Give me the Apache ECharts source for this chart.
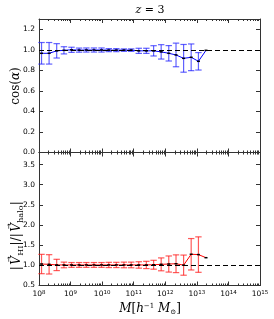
<!DOCTYPE html>
<html><head><meta charset="utf-8">
<script src="https://cdn.jsdelivr.net/npm/echarts@6/dist/echarts.min.js"></script>
<style>html,body{margin:0;padding:0;background:#fff}#c{width:274px;height:319px}</style>
</head><body><div id="c"></div>
<script>
// log10 of halo mass (bin centres)
const logM = [8.08, 8.32, 8.56, 8.79, 9.03, 9.27, 9.50, 9.74, 9.98, 10.21, 10.45, 10.69, 10.92, 11.16, 11.40, 11.63, 11.87, 12.11, 12.34, 12.58, 12.82, 13.05, 13.29];
// top panel: cos(alpha)
const cosVal = [0.966, 0.966, 0.99, 0.995, 1.0, 0.997, 0.998, 0.998, 0.998, 0.997, 0.997, 0.997, 0.997, 0.99, 0.99, 0.99, 0.98, 0.966, 0.95, 0.917, 0.927, 0.888, 0.995];
const cosErr = [0.105, 0.105, 0.07, 0.035, 0.025, 0.02, 0.02, 0.02, 0.02, 0.015, 0.015, 0.012, 0.012, 0.025, 0.025, 0.05, 0.07, 0.075, 0.115, 0.135, 0.13, 0.085, null];
// bottom panel: |V_HI|/|V_halo|
const vVal = [1.033, 1.025, 1.01, 1.01, 1.01, 1.01, 1.01, 1.01, 1.01, 1.01, 1.01, 1.01, 1.01, 1.01, 1.01, 1.015, 1.025, 1.033, 1.04, 1.005, 1.275, 1.267, 1.19];
const vErr = [0.24, 0.24, 0.14, 0.07, 0.06, 0.06, 0.06, 0.06, 0.06, 0.065, 0.065, 0.07, 0.07, 0.08, 0.09, 0.11, 0.16, 0.2, 0.22, 0.25, 0.39, 0.44, null];
// axis ticks
const xMajor = [8, 9, 10, 11, 12, 13, 14, 15];
const yTicksTop = [0, 0.2, 0.4, 0.6, 0.8, 1.0, 1.2];
const yTicksBot = [0.5, 1.0, 1.5, 2.0, 2.5, 3.0, 3.5];

const xMinor = [];
for (let n = 8; n < 15; n++) for (let k = 2; k <= 9; k++) xMinor.push(n + Math.log10(k));

const AX = '#333';
const FONT = 'DejaVu Sans';
const SERIF = 'DejaVu Serif';

function xAxes(g, showLabels) {
  const base = {gridIndex: g, type: 'value', min: 8, max: 15, splitLine: {show: false}};
  return [
    Object.assign({}, base, {position: 'bottom',
      axisLine: {show: true, onZero: false, lineStyle: {color: AX, width: 1}},
      axisTick: {show: true, inside: true, length: 4, customValues: xMajor, lineStyle: {color: AX}},
      axisLabel: {show: showLabels, customValues: xMajor, margin: 4, color: '#000',
        formatter: v => '{b|10}{s|' + Math.round(v) + '}',
        rich: {b: {fontSize: 7.5, fontFamily: FONT, color: '#000', lineHeight: 10},
               s: {fontSize: 5.5, fontFamily: FONT, color: '#000', verticalAlign: 'top', lineHeight: 10, padding: [0, 0, 4, 0]}}}}),
    Object.assign({}, base, {position: 'bottom',
      axisLine: {show: false, onZero: false},
      axisTick: {show: true, inside: true, length: 2, customValues: xMinor, lineStyle: {color: AX}},
      axisLabel: {show: false}}),
    Object.assign({}, base, {position: 'top',
      axisLine: {show: true, onZero: false, lineStyle: {color: AX, width: 1}},
      axisTick: {show: true, inside: true, length: 4, customValues: xMajor, lineStyle: {color: AX}},
      axisLabel: {show: false}}),
    Object.assign({}, base, {position: 'top',
      axisLine: {show: false, onZero: false},
      axisTick: {show: true, inside: true, length: 2, customValues: xMinor, lineStyle: {color: AX}},
      axisLabel: {show: false}})
  ];
}
function yAxes(g, min, max, ticks) {
  const base = {gridIndex: g, type: 'value', min: min, max: max, splitLine: {show: false}};
  return [
    Object.assign({}, base, {position: 'left',
      axisLine: {show: true, onZero: false, lineStyle: {color: AX, width: 1}},
      axisTick: {show: true, inside: true, length: 4, customValues: ticks, lineStyle: {color: AX}},
      axisLabel: {show: true, customValues: ticks, margin: 4, fontSize: 7.5, fontFamily: FONT, color: '#000',
        formatter: v => v.toFixed(1)}}),
    Object.assign({}, base, {position: 'right',
      axisLine: {show: true, onZero: false, lineStyle: {color: AX, width: 1}},
      axisTick: {show: true, inside: true, length: 4, customValues: ticks, lineStyle: {color: AX}},
      axisLabel: {show: false}})
  ];
}

function errSeries(g, vals, errs, color) {
  return {
    type: 'custom', xAxisIndex: g * 4, yAxisIndex: g * 2, z: 2,
    dimensions: ['x', 'y', 'e'], encode: {x: 0, y: 1},
    data: logM.map((x, i) => [x, vals[i], errs[i] == null ? 0 : errs[i]]),
    renderItem: function (params, api) {
      const x = api.value(0), y = api.value(1), e = api.value(2);
      if (!e) return null;
      const lo = api.coord([x, y - e]), hi = api.coord([x, y + e]);
      const cw = 3.2;
      const st = {stroke: color, lineWidth: 1.2};
      return {type: 'group', children: [
        {type: 'line', shape: {x1: lo[0], y1: lo[1], x2: hi[0], y2: hi[1]}, style: st},
        {type: 'line', shape: {x1: lo[0] - cw, y1: lo[1], x2: lo[0] + cw, y2: lo[1]}, style: st},
        {type: 'line', shape: {x1: hi[0] - cw, y1: hi[1], x2: hi[0] + cw, y2: hi[1]}, style: st}
      ]};
    }
  };
}
function lineSeries(g, vals, color) {
  return {
    type: 'line', xAxisIndex: g * 4, yAxisIndex: g * 2, z: 3,
    data: logM.map((x, i) => [x, vals[i]]),
    lineStyle: {color: color, width: 1},
    symbol: 'rect', symbolSize: [3, 1.5], showSymbol: true,
    itemStyle: {color: '#000'},
    markLine: {silent: true, symbol: ['none', 'none'], label: {show: false},
      lineStyle: {color: '#000', type: [5, 3], width: 1},
      data: [{yAxis: 1}]}
  };
}

// rotated y-label for bottom panel built from pieces (with arrows over V)
const ctx = document.createElement('canvas').getContext('2d');
function fontStr(p) { return (p.it ? 'italic ' : '') + p.size + 'px "' + SERIF + '"'; }
const pieces = [
  {t: '|', size: 12}, {t: 'V', size: 12, it: true, arrow: true}, {t: 'HI', size: 8, sub: true},
  {t: '|/|', size: 12}, {t: 'V', size: 12, it: true, arrow: true}, {t: 'halo', size: 8, sub: true}, {t: '|', size: 12}
];
let total = 0;
pieces.forEach(p => { ctx.font = fontStr(p); p.w = ctx.measureText(p.t).width + (p.t.indexOf('|') >= 0 ? 1.5 : 0.3); total += p.w; });
const labelChildren = [];
let cx = -total / 2;
pieces.forEach(p => {
  labelChildren.push({type: 'text', x: cx, y: p.sub ? 4 : 0,
    style: {text: p.t, font: fontStr(p), fill: '#000', align: 'left', verticalAlign: 'middle'}});
  if (p.arrow) {
    labelChildren.push({type: 'text', x: cx + p.w / 2 + 1, y: -8,
      style: {text: '→', font: '7px "' + FONT + '"', fill: '#000', align: 'center', verticalAlign: 'middle'}});
  }
  cx += p.w;
});

const chart = echarts.init(document.getElementById('c'), null, {renderer: 'canvas'});
chart.setOption({
  animation: false,
  backgroundColor: '#fff',
  grid: [
    {left: 39, right: 14, top: 19, height: 133.5},
    {left: 39, right: 14, top: 152.5, height: 133}
  ],
  xAxis: xAxes(0, false).concat(xAxes(1, true)),
  yAxis: yAxes(0, 0, 1.3, yTicksTop).concat(yAxes(1, 0.5, 3.8, yTicksBot)),
  series: [
    errSeries(0, cosVal, cosErr, 'rgba(30,30,255,0.7)'),
    lineSeries(0, cosVal, '#0000ff'),
    errSeries(1, vVal, vErr, 'rgba(255,20,20,0.7)'),
    lineSeries(1, vVal, '#ff0000')
  ],
  graphic: [
    {type: 'text', x: 150, y: 10, style: {text: '{i|z}{n| = 3}', align: 'center', verticalAlign: 'middle',
      rich: {i: {fontFamily: SERIF, fontStyle: 'italic', fontSize: 11, fill: '#000'},
             n: {fontFamily: SERIF, fontSize: 11, fill: '#000'}}}},
    {type: 'text', x: 16, y: 86, rotation: Math.PI / 2, style: {text: '{n|cos(}{i|α}{n|)}', align: 'center', verticalAlign: 'middle',
      rich: {i: {fontFamily: SERIF, fontStyle: 'italic', fontSize: 12, fill: '#000'},
             n: {fontFamily: SERIF, fontSize: 12, fill: '#000'}}}},
    {type: 'group', x: 17, y: 235, rotation: Math.PI / 2, children: labelChildren},
    {type: 'text', x: 150, y: 309, style: {text: '{i|M}{n|[}{i|h}{s|−1}{n| }{i|M}{b|⊙}{n|]}', align: 'center', verticalAlign: 'middle',
      rich: {i: {fontFamily: SERIF, fontStyle: 'italic', fontSize: 12, fill: '#000'},
             n: {fontFamily: SERIF, fontSize: 12, fill: '#000'},
             s: {fontFamily: SERIF, fontSize: 7, fill: '#000', verticalAlign: 'top', padding: [0, 0, 6, 0]},
             b: {fontFamily: SERIF, fontSize: 7, fill: '#000', verticalAlign: 'bottom', padding: [5, 0, 0, 0]}}}}
  ]
});
</script></body></html>
